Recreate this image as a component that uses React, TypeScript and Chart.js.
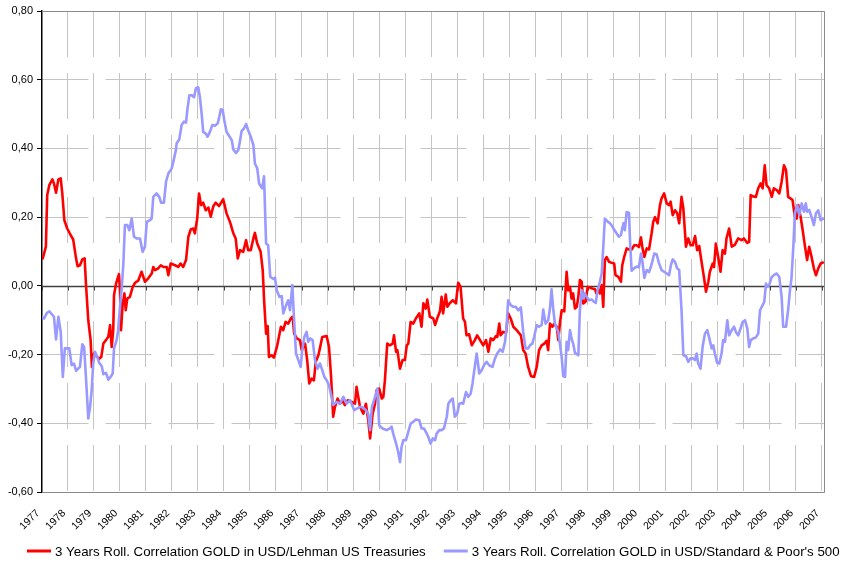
import React, { useEffect, useRef } from 'react';
import { Chart, registerables } from 'chart.js';

Chart.register(...registerables);

const yearLabels = [1977, 1978, 1979, 1980, 1981, 1982, 1983, 1984, 1985, 1986, 1987, 1988, 1989, 1990, 1991, 1992, 1993, 1994, 1995, 1996, 1997, 1998, 1999, 2000, 2001, 2002, 2003, 2004, 2005, 2006, 2007];
const yTickValues = [-0.6, -0.4, -0.2, 0, 0.2, 0.4, 0.6, 0.8];

const seriesNames = [
  '3 Years Roll. Correlation GOLD in USD/Lehman US Treasuries',
  "3 Years Roll. Correlation GOLD in USD/Standard & Poor's 500",
];

const treasuryDates = [
  1977.03, 1977.15, 1977.20, 1977.28, 1977.40, 1977.46, 1977.54, 1977.63, 1977.72, 1977.78, 1977.86, 1977.97,
  1978.10, 1978.20, 1978.31, 1978.37, 1978.46, 1978.55, 1978.64, 1978.69, 1978.78, 1978.87, 1978.92,
  1979.00, 1979.10, 1979.20, 1979.28, 1979.36, 1979.46, 1979.55, 1979.62, 1979.68, 1979.74, 1979.77, 1979.85, 1979.96,
  1980.00, 1980.04, 1980.10, 1980.17, 1980.22, 1980.28, 1980.38, 1980.49, 1980.58, 1980.70, 1980.83, 1980.96,
  1981.09, 1981.22, 1981.28, 1981.35, 1981.47, 1981.57, 1981.67, 1981.80, 1981.86, 1981.95,
  1982.12, 1982.24, 1982.33, 1982.43, 1982.54, 1982.63, 1982.72, 1982.82, 1982.88, 1982.97,
  1983.04, 1983.12, 1983.20, 1983.30, 1983.40, 1983.49, 1983.59, 1983.68, 1983.81, 1983.97,
  1984.10, 1984.23, 1984.36, 1984.45, 1984.53, 1984.62, 1984.74, 1984.85, 1984.93,
  1985.03, 1985.13, 1985.19, 1985.28, 1985.41, 1985.49, 1985.55, 1985.62, 1985.68, 1985.73, 1985.83, 1985.92,
  1986.05, 1986.19, 1986.28, 1986.37, 1986.47, 1986.57, 1986.64, 1986.70, 1986.80, 1986.92, 1986.99,
  1987.12, 1987.20, 1987.28, 1987.37, 1987.46, 1987.53, 1987.63, 1987.69, 1987.78, 1987.95,
  1988.04, 1988.12, 1988.20, 1988.27, 1988.37, 1988.46, 1988.55, 1988.65, 1988.76, 1988.91,
  1989.04, 1989.10, 1989.23, 1989.36, 1989.46, 1989.55, 1989.62, 1989.72, 1989.81, 1989.87, 1989.97,
  1990.07, 1990.13, 1990.19, 1990.28, 1990.38, 1990.49, 1990.54, 1990.62, 1990.67, 1990.77, 1990.87, 1990.96,
  1991.03, 1991.09, 1991.18, 1991.28, 1991.38, 1991.51, 1991.60, 1991.67, 1991.76, 1991.82, 1991.92,
  1992.05, 1992.12, 1992.20, 1992.31, 1992.37, 1992.43, 1992.53, 1992.59, 1992.69, 1992.80, 1992.92,
  1993.01, 1993.10, 1993.20, 1993.27, 1993.33, 1993.43, 1993.53, 1993.65, 1993.74, 1993.85, 1993.97,
  1994.08, 1994.17, 1994.26, 1994.36, 1994.46, 1994.51, 1994.59, 1994.64, 1994.74, 1994.85, 1994.93,
  1995.03, 1995.13, 1995.26, 1995.42, 1995.51, 1995.60, 1995.70, 1995.81, 1995.93,
  1996.03, 1996.12, 1996.22, 1996.32, 1996.41, 1996.47, 1996.54, 1996.63, 1996.70, 1996.80, 1996.86, 1996.92, 1996.99,
  1997.09, 1997.18, 1997.24, 1997.31, 1997.37, 1997.43, 1997.50, 1997.57, 1997.63, 1997.69, 1997.76, 1997.82, 1997.91, 1997.99,
  1998.08, 1998.17, 1998.27, 1998.33, 1998.40, 1998.46, 1998.53, 1998.59, 1998.65, 1998.72, 1998.81, 1998.91,
  1999.01, 1999.06, 1999.17, 1999.27, 1999.32, 1999.40, 1999.49, 1999.58, 1999.68, 1999.78, 1999.87, 1999.96,
  2000.04, 2000.09, 2000.17, 2000.26, 2000.35, 2000.45, 2000.51, 2000.58, 2000.68, 2000.77, 2000.83, 2000.93,
  2001.03, 2001.12, 2001.18, 2001.26, 2001.35, 2001.43, 2001.51, 2001.60, 2001.67, 2001.77, 2001.86, 2001.95,
  2002.03, 2002.12, 2002.20, 2002.28, 2002.37, 2002.46, 2002.54, 2002.63, 2002.69, 2002.80, 2002.85, 2002.92,
  2003.01, 2003.10, 2003.18, 2003.27, 2003.33, 2003.43, 2003.53, 2003.65, 2003.78, 2003.91,
  2004.00, 2004.13, 2004.20, 2004.26, 2004.36, 2004.46, 2004.55, 2004.64, 2004.72, 2004.80, 2004.87, 2004.97,
  2005.07, 2005.15, 2005.26, 2005.36, 2005.45, 2005.54, 2005.62, 2005.70, 2005.80, 2005.87, 2005.96,
  2006.03, 2006.09, 2006.18, 2006.26, 2006.35, 2006.43, 2006.51, 2006.60, 2006.69, 2006.77, 2006.86, 2006.95,
  2007.04,
];
const treasuryValues = [
  0.08, 0.114, 0.264, 0.293, 0.31, 0.298, 0.271, 0.31, 0.313, 0.269, 0.191, 0.167,
  0.148, 0.135, 0.08, 0.057, 0.06, 0.077, 0.08, 0.007, -0.1, -0.158, -0.236,
  -0.197, -0.205, -0.212, -0.207, -0.168, -0.158, -0.148, -0.114, -0.178, -0.129, -0.027, 0.007, 0.034,
  -0.013, -0.129, -0.056, -0.022, -0.071, -0.037, -0.032, -0.003, 0.009, 0.015, 0.041, 0.012,
  0.022, 0.036, 0.055, 0.046, 0.051, 0.06, 0.055, 0.055, 0.031, 0.065,
  0.06, 0.055, 0.065, 0.055, 0.075, 0.143, 0.164, 0.167, 0.153, 0.196,
  0.269, 0.235, 0.242, 0.22, 0.228, 0.201, 0.232, 0.242, 0.232, 0.252,
  0.211, 0.186, 0.153, 0.138, 0.08, 0.104, 0.099, 0.133, 0.104,
  0.104, 0.138, 0.154, 0.123, 0.099, 0.046, -0.051, -0.139, -0.117, -0.207, -0.202, -0.209,
  -0.173, -0.119, -0.129, -0.105, -0.11, -0.095, -0.09, -0.139, -0.153, -0.158, -0.187,
  -0.168, -0.216, -0.284, -0.27, -0.275, -0.221, -0.202, -0.182, -0.149, -0.146,
  -0.178, -0.265, -0.381, -0.352, -0.328, -0.343, -0.333, -0.347, -0.333, -0.338,
  -0.343, -0.294, -0.352, -0.372, -0.343, -0.391, -0.444, -0.372, -0.343, -0.304, -0.299,
  -0.328, -0.323, -0.275, -0.168, -0.173, -0.168, -0.144, -0.192, -0.187, -0.241, -0.216, -0.216,
  -0.173, -0.168, -0.105, -0.11, -0.095, -0.08, -0.119, -0.051, -0.066, -0.04, -0.09,
  -0.095, -0.114, -0.095, -0.073, -0.032, -0.08, -0.025, -0.061, -0.05, -0.042, -0.051,
  0.009, -0.003, -0.095, -0.105, -0.144, -0.141, -0.173, -0.158, -0.144, -0.158, -0.173,
  -0.158, -0.192, -0.153, -0.158, -0.146, -0.149, -0.11, -0.144, -0.134, -0.136, -0.08,
  -0.095, -0.119, -0.129, -0.144, -0.187, -0.197, -0.236, -0.263, -0.265,
  -0.236, -0.187, -0.173, -0.168, -0.16, -0.187, -0.11, -0.119, -0.111, -0.119, -0.158, -0.11, -0.071,
  -0.074, 0.041, -0.013, -0.003, -0.037, -0.022, -0.066, -0.061, -0.032, 0.017, 0.012, -0.051, -0.046, -0.003,
  -0.005, -0.008, -0.01, -0.022, -0.01, -0.022, 0.002, -0.061, 0.075, 0.084, 0.07, 0.067,
  0.065, 0.031, 0.026, 0.012, 0.06, 0.086, 0.109, 0.106, 0.106, 0.118, 0.118, 0.113,
  0.141, 0.113, 0.084, 0.109, 0.106, 0.153, 0.186, 0.2, 0.182, 0.235, 0.254, 0.269,
  0.24, 0.235, 0.245, 0.206, 0.22, 0.212, 0.182, 0.259, 0.225, 0.114, 0.138, 0.118,
  0.118, 0.145, 0.104, 0.116, 0.07, 0.026, -0.017, 0.012, 0.041, 0.065, 0.055, 0.123,
  0.084, 0.041, 0.104, 0.094, 0.138, 0.167, 0.114, 0.119, 0.138, 0.133,
  0.138, 0.125, 0.128, 0.264, 0.26, 0.259, 0.284, 0.298, 0.284, 0.351, 0.293, 0.284,
  0.259, 0.284, 0.279, 0.269, 0.303, 0.351, 0.337, 0.259, 0.254, 0.25, 0.201,
  0.196, 0.235, 0.201, 0.162, 0.114, 0.075, 0.114, 0.085, 0.051, 0.031, 0.051, 0.065,
  0.068,
];

const sp500Dates = [
  1977.00, 1977.08, 1977.18, 1977.28, 1977.37, 1977.46, 1977.54, 1977.63, 1977.72, 1977.80, 1977.88,
  1978.05, 1978.14, 1978.23, 1978.31, 1978.40, 1978.46, 1978.55, 1978.62, 1978.69, 1978.78, 1978.85, 1978.91, 1978.97,
  1979.04, 1979.13, 1979.20, 1979.30, 1979.36, 1979.46, 1979.55, 1979.64, 1979.72, 1979.77, 1979.87, 1979.93,
  1980.00, 1980.07, 1980.13, 1980.19, 1980.28, 1980.36, 1980.45, 1980.54, 1980.64, 1980.77, 1980.87, 1980.96,
  1981.03, 1981.15, 1981.22, 1981.28, 1981.41, 1981.51, 1981.58, 1981.69, 1981.77, 1981.86, 1981.99,
  1982.05, 1982.15, 1982.18, 1982.28, 1982.37, 1982.46, 1982.54, 1982.59, 1982.67, 1982.76, 1982.85, 1982.92,
  1983.01, 1983.08, 1983.14, 1983.20, 1983.30, 1983.37, 1983.46, 1983.55, 1983.65, 1983.76, 1983.82, 1983.88, 1983.95,
  1984.01, 1984.10, 1984.20, 1984.30, 1984.36, 1984.46, 1984.55, 1984.62, 1984.68, 1984.77, 1984.85, 1984.93,
  1985.03, 1985.13, 1985.19, 1985.28, 1985.35, 1985.41, 1985.47, 1985.54, 1985.62, 1985.70, 1985.78, 1985.90, 1985.96,
  1986.03, 1986.13, 1986.22, 1986.28, 1986.37, 1986.47, 1986.54, 1986.63, 1986.69, 1986.77, 1986.86, 1986.95,
  1987.01, 1987.09, 1987.18, 1987.24, 1987.32, 1987.41, 1987.50, 1987.60, 1987.69, 1987.78, 1987.86, 1987.95,
  1988.04, 1988.12, 1988.20, 1988.33, 1988.46, 1988.59, 1988.72, 1988.85,
  1989.01, 1989.23, 1989.36, 1989.46, 1989.55, 1989.62, 1989.69, 1989.81, 1989.90, 1989.97,
  1990.10, 1990.26, 1990.38, 1990.45, 1990.51, 1990.62, 1990.70, 1990.77, 1990.83, 1990.90,
  1991.00, 1991.09, 1991.18, 1991.28, 1991.38, 1991.51, 1991.60, 1991.69, 1991.80, 1991.86, 1991.95,
  1992.03, 1992.12, 1992.18, 1992.28, 1992.37, 1992.46, 1992.57, 1992.63, 1992.72, 1992.80, 1992.88, 1992.97,
  1993.05, 1993.14, 1993.20, 1993.31, 1993.40, 1993.49, 1993.56, 1993.63, 1993.72, 1993.82, 1993.91,
  1994.00, 1994.10, 1994.20, 1994.33, 1994.42, 1994.51, 1994.62, 1994.72, 1994.81, 1994.87, 1994.93,
  1995.03, 1995.13, 1995.22, 1995.32, 1995.42, 1995.51, 1995.60, 1995.70, 1995.77, 1995.86, 1995.93,
  1996.03, 1996.12, 1996.22, 1996.28, 1996.37, 1996.47, 1996.54, 1996.60, 1996.67, 1996.73, 1996.86, 1996.92, 1996.99,
  1997.05, 1997.12, 1997.18, 1997.24, 1997.31, 1997.37, 1997.43, 1997.50, 1997.63, 1997.69, 1997.76, 1997.82, 1997.88, 1997.95,
  1998.04, 1998.15, 1998.24, 1998.30, 1998.37, 1998.46, 1998.53, 1998.59, 1998.65, 1998.76, 1998.85, 1998.93,
  1999.01, 1999.10, 1999.19, 1999.27, 1999.32, 1999.37, 1999.42, 1999.49, 1999.58, 1999.62, 1999.68, 1999.77, 1999.87, 1999.96,
  2000.04, 2000.09, 2000.17, 2000.26, 2000.35, 2000.45, 2000.55, 2000.64, 2000.73, 2000.83, 2000.93,
  2001.03, 2001.12, 2001.19, 2001.26, 2001.35, 2001.43, 2001.51, 2001.60, 2001.67, 2001.77, 2001.86, 2001.95,
  2002.03, 2002.12, 2002.18, 2002.24, 2002.33, 2002.41, 2002.50, 2002.59, 2002.67, 2002.76, 2002.82, 2002.88, 2002.97,
  2003.05, 2003.14, 2003.20, 2003.27, 2003.36, 2003.43, 2003.53, 2003.62, 2003.69, 2003.78, 2003.87, 2003.95,
  2004.04, 2004.13, 2004.20, 2004.26, 2004.36, 2004.46, 2004.55, 2004.62, 2004.72, 2004.78, 2004.85, 2004.90, 2004.97,
  2005.07, 2005.15, 2005.26, 2005.36, 2005.45, 2005.51, 2005.62, 2005.70, 2005.77, 2005.83, 2005.90, 2005.96,
  2006.05, 2006.13, 2006.22, 2006.31, 2006.38, 2006.43, 2006.51, 2006.60, 2006.69, 2006.77, 2006.86, 2006.95,
  2007.04,
];
const sp500Values = [
  -0.09, -0.095, -0.08, -0.074, -0.082, -0.09, -0.156, -0.09, -0.134, -0.265, -0.182,
  -0.182, -0.231, -0.226, -0.247, -0.24, -0.236, -0.17, -0.178, -0.265, -0.386, -0.352, -0.304, -0.226,
  -0.192, -0.207, -0.224, -0.234, -0.257, -0.253, -0.273, -0.265, -0.255, -0.182, -0.158, -0.129,
  -0.061, -0.003, 0.065, 0.177, 0.177, 0.162, 0.196, 0.143, 0.138, 0.138, 0.099, 0.114,
  0.186, 0.191, 0.196, 0.259, 0.269, 0.259, 0.242, 0.242, 0.303, 0.327, 0.342,
  0.361, 0.395, 0.415, 0.426, 0.468, 0.478, 0.475, 0.512, 0.555, 0.555, 0.549, 0.575,
  0.578, 0.546, 0.502, 0.448, 0.443, 0.434, 0.448, 0.468, 0.466, 0.473, 0.492, 0.514, 0.512,
  0.483, 0.448, 0.436, 0.424, 0.397, 0.387, 0.395, 0.424, 0.451, 0.458, 0.471, 0.453,
  0.434, 0.41, 0.356, 0.342, 0.298, 0.29, 0.284, 0.319, 0.123, 0.118, 0.026, 0.02, 0.024,
  -0.013, -0.032, -0.03, -0.08, -0.06, -0.042, -0.071, 0.002, -0.09, -0.197, -0.216, -0.236,
  -0.187, -0.149, -0.134, -0.163, -0.153, -0.158, -0.216, -0.241, -0.226, -0.245, -0.265, -0.275,
  -0.289, -0.318, -0.347, -0.338, -0.343, -0.323, -0.343, -0.333,
  -0.362, -0.352, -0.355, -0.362, -0.372, -0.42, -0.352, -0.323, -0.299, -0.406,
  -0.415, -0.42, -0.415, -0.41, -0.43, -0.459, -0.483, -0.513, -0.469, -0.449,
  -0.449, -0.425, -0.401, -0.396, -0.389, -0.391, -0.415, -0.415, -0.43, -0.44, -0.459,
  -0.444, -0.449, -0.43, -0.42, -0.42, -0.415, -0.381, -0.343, -0.333, -0.328, -0.381, -0.372,
  -0.343, -0.341, -0.343, -0.309, -0.323, -0.313, -0.284, -0.245, -0.197, -0.255, -0.246,
  -0.231, -0.221, -0.231, -0.236, -0.212, -0.197, -0.185, -0.192, -0.163, -0.119, -0.042,
  -0.056, -0.061, -0.061, -0.071, -0.063, -0.134, -0.182, -0.182, -0.173, -0.168, -0.149,
  -0.114, -0.119, -0.114, -0.069, -0.11, -0.1, -0.066, -0.01, -0.071, -0.11, -0.134, -0.168, -0.207,
  -0.263, -0.265, -0.163, -0.187, -0.129, -0.153, -0.168, -0.195, -0.202, -0.071, -0.013, -0.037, -0.022, -0.032,
  -0.042, -0.04, -0.047, -0.05, -0.013, 0.012, 0.036, 0.114, 0.196, 0.187, 0.182, 0.174,
  0.163, 0.153, 0.143, 0.148, 0.168, 0.183, 0.162, 0.215, 0.212, 0.128, 0.044, 0.051, 0.056, 0.054,
  0.094, 0.074, 0.023, 0.046, 0.04, 0.063, 0.094, 0.092, 0.067, 0.046, 0.041,
  0.036, 0.031, 0.06, 0.077, 0.07, 0.051, 0.046, -0.071, -0.202, -0.205, -0.221, -0.211,
  -0.211, -0.216, -0.197, -0.226, -0.241, -0.178, -0.139, -0.129, -0.153, -0.182, -0.173, -0.197, -0.224,
  -0.226, -0.197, -0.158, -0.163, -0.1, -0.144, -0.129, -0.119, -0.134, -0.144, -0.124, -0.105,
  -0.1, -0.124, -0.178, -0.158, -0.153, -0.15, -0.139, -0.071, -0.056, -0.047, 0.007, -0.003, 0.002,
  0.026, 0.031, 0.036, 0.026, -0.032, -0.119, -0.119, -0.071, -0.013, 0.022, 0.114, 0.211,
  0.235, 0.206, 0.24, 0.216, 0.24, 0.216, 0.221, 0.201, 0.177, 0.211, 0.22, 0.191,
  0.195,
];

const RED = '#ff0000';
const BLUE = '#9999ff';
const FONT = "'Liberation Sans', Arial, sans-serif";

function fmt(v: number) {
  if (Math.abs(v) < 1e-9) return '0,00';
  return v.toFixed(2).replace('.', ',');
}

export default function App() {
  const ref = useRef<HTMLCanvasElement | null>(null);

  useEffect(() => {
    const canvas = ref.current;
    if (!canvas) return;

    const framePlugin = {
      id: 'frame',
      beforeDatasetsDraw(chart: any) {
        const { ctx, chartArea: a, scales } = chart;
        const y0 = Math.round(scales.y.getPixelForValue(0)) + 0.5;
        const top = Math.round(a.top) + 0.5;
        const bottom = Math.round(a.bottom) + 0.5;
        const right = Math.round(a.right) + 0.5;
        ctx.save();
        ctx.strokeStyle = '#8a8a8a';
        ctx.lineWidth = 1;
        ctx.beginPath();
        ctx.moveTo(a.left, top);
        ctx.lineTo(right, top);
        ctx.lineTo(right, bottom);
        ctx.lineTo(a.left, bottom);
        ctx.stroke();
        ctx.strokeStyle = '#404040';
        ctx.lineWidth = 1.5;
        ctx.beginPath();
        ctx.moveTo(a.left, y0);
        ctx.lineTo(a.right, y0);
        ctx.stroke();
        ctx.lineWidth = 1;
        ctx.beginPath();
        for (const yr of yearLabels) {
          const x = Math.round(scales.x.getPixelForValue(yr)) + 0.5;
          ctx.moveTo(x, y0);
          ctx.lineTo(x, y0 + 4);
        }
        ctx.stroke();
        ctx.restore();
      },
    };

    const legendPlugin = {
      id: 'customLegend',
      afterDraw(chart: any) {
        const { ctx } = chart;
        const y = 551;
        const lineW = 24;
        const gapText = 4;
        const gapItem = 18;
        ctx.save();
        ctx.font = `13.3px ${FONT}`;
        ctx.textBaseline = 'middle';
        ctx.textAlign = 'left';
        let x = 27;
        chart.data.datasets.forEach((ds: any) => {
          ctx.strokeStyle = ds.borderColor;
          ctx.lineWidth = 3;
          ctx.beginPath();
          ctx.moveTo(x, y);
          ctx.lineTo(x + lineW, y);
          ctx.stroke();
          x += lineW + gapText;
          ctx.fillStyle = '#000';
          ctx.fillText(ds.label, x, y + 1);
          x += ctx.measureText(ds.label).width + gapItem;
        });
        ctx.restore();
      },
    };

    const chart = new Chart(canvas, {
      type: 'line',
      data: {
        datasets: [
          {
            label: seriesNames[0],
            data: treasuryDates.map((d, i) => ({ x: d, y: treasuryValues[i] })),
            borderColor: RED,
            backgroundColor: RED,
            borderWidth: 2.6,
            pointRadius: 0,
            tension: 0,
            borderJoinStyle: 'round',
            borderCapStyle: 'round',
            order: 2,
          },
          {
            label: seriesNames[1],
            data: sp500Dates.map((d, i) => ({ x: d, y: sp500Values[i] })),
            borderColor: BLUE,
            backgroundColor: BLUE,
            borderWidth: 2.6,
            pointRadius: 0,
            tension: 0,
            borderJoinStyle: 'round',
            borderCapStyle: 'round',
            order: 1,
          },
        ],
      },
      options: {
        animation: false,
        responsive: false,
        maintainAspectRatio: false,
        layout: { padding: { top: 11, right: 23, left: 0, bottom: 0 } },
        plugins: {
          legend: { display: false },
          tooltip: { enabled: false },
        },
        scales: {
          x: {
            type: 'linear',
            min: 1977,
            max: 2007.08,
            afterBuildTicks: (scale: any) => {
              scale.ticks = yearLabels.map((v) => ({ value: v }));
            },
            afterFit: (scale: any) => {
              scale.height = 70;
            },
            ticks: {
              autoSkip: false,
              minRotation: 45,
              maxRotation: 45,
              padding: 15,
              labelOffset: -4,
              color: '#000',
              font: { family: FONT, size: 10.5 },
              callback: (v: any) => String(v),
            },
            grid: {
              drawTicks: false,
              color: (c: any) => (c.tick && c.tick.value === 1977 ? 'rgba(0,0,0,0)' : '#c4c4c4'),
              lineWidth: 1,
            },
            border: { display: false, dash: [46, 16] },
          },
          y: {
            min: -0.6,
            max: 0.8,
            afterBuildTicks: (scale: any) => {
              scale.ticks = yTickValues.map((v) => ({ value: v }));
            },
            afterFit: (scale: any) => {
              scale.width = 42;
            },
            ticks: {
              padding: 4,
              color: '#000',
              font: { family: FONT, size: 11 },
              callback: (v: any) => fmt(Number(v)),
            },
            grid: {
              drawTicks: true,
              tickLength: 5,
              tickColor: '#000',
              tickBorderDash: [],
              color: (c: any) => {
                const v = c.tick ? c.tick.value : 1;
                if (Math.abs(v) < 1e-9 || Math.abs(v - 0.8) < 1e-9 || Math.abs(v + 0.6) < 1e-9) return 'rgba(0,0,0,0)';
                return '#c4c4c4';
              },
              lineWidth: 1,
            },
            border: { display: true, color: '#000', width: 1.5, dash: [46, 17] },
          },
        },
      },
      plugins: [framePlugin, legendPlugin],
    });

    return () => chart.destroy();
  }, []);

  return (
    <div style={{ position: 'fixed', left: 0, top: 0, width: 847, height: 562, background: '#fff' }}>
      <canvas ref={ref} width={847} height={562} style={{ display: 'block', width: 847, height: 562 }} />
    </div>
  );
}
